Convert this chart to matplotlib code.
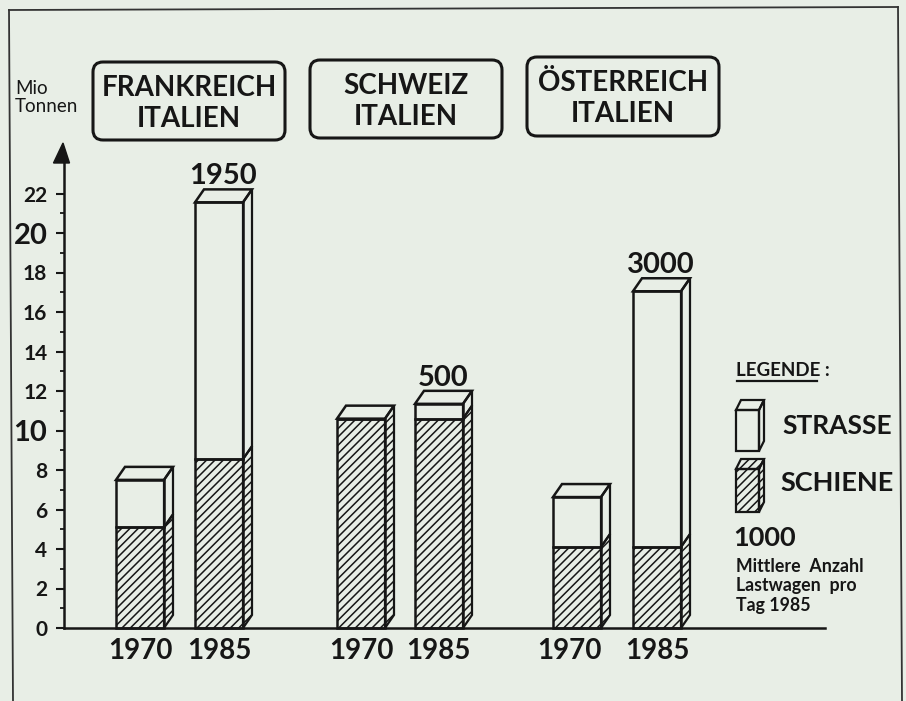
import matplotlib
matplotlib.use("Agg")
import matplotlib.pyplot as plt
from matplotlib.patches import FancyBboxPatch, Polygon, Rectangle
from matplotlib.lines import Line2D
from matplotlib.transforms import Affine2D

# --- data ---
routes = ["FRANKREICH\nITALIEN", "SCHWEIZ\nITALIEN", "ÖSTERREICH\nITALIEN"]
years = ["1970", "1985", "1970", "1985", "1970", "1985"]
schiene = [5.1, 8.55, 10.6, 10.6, 4.1, 4.1]
strasse = [2.4, 13.0, 0.0, 0.75, 2.53, 12.95]
lastwagen = ["", "1950", "", "500", "", "3000"]
y_ticks = [0, 2, 4, 6, 8, 10, 12, 14, 16, 18, 20, 22]

# --- layout (pixels of the 906x701 picture) ---
W, H = 906, 701
INK = "#161616"
BG = "#e8eee6"
FONT = "Lato"
plt.rcParams["font.family"] = [FONT, "DejaVu Sans"]
plt.rcParams["hatch.linewidth"] = 1.1
plt.rcParams["hatch.color"] = INK

fig = plt.figure(figsize=(W / 100, H / 100), dpi=100, facecolor=BG)
px = Affine2D().scale(1 / W, -1 / H).translate(0, 1) + fig.transFigure

AX_L, AX_R, AX_B, AX_T = 64, 825, 628, 163
UNIT = 19.75
ax = fig.add_axes([AX_L / W, 1 - AX_B / H, (AX_R - AX_L) / W, (AX_B - AX_T) / H])
ax.set_xlim(AX_L, AX_R)
ax.set_ylim(0, (AX_B - AX_T) / UNIT)
ax.patch.set_alpha(0)
for s in ("top", "right"):
    ax.spines[s].set_visible(False)
for s in ("left", "bottom"):
    ax.spines[s].set_linewidth(1.8)
    ax.spines[s].set_color(INK)

lefts = [116, 195, 337, 415, 553, 633]
BW, DX, DY = 48, 9, 13 / UNIT
HATCH = "////"

ax.bar(lefts, schiene, width=BW, align="edge", facecolor="none", edgecolor=INK,
       linewidth=1.8, hatch=HATCH, clip_on=False, zorder=3)
ax.bar(lefts, strasse, bottom=schiene, width=BW, align="edge", facecolor="none",
       edgecolor=INK, linewidth=1.8, clip_on=False, zorder=3)

for x, r, s, lab in zip(lefts, schiene, strasse, lastwagen):
    right = x + BW
    total = r + s
    ax.add_patch(Polygon([(right, 0), (right + DX, DY), (right + DX, r + DY), (right, r)],
                         closed=True, facecolor="none", edgecolor=INK, linewidth=1.6,
                         hatch=HATCH, clip_on=False, zorder=3))
    if s > 0:
        ax.add_patch(Polygon([(right, r), (right + DX, r + DY), (right + DX, total + DY), (right, total)],
                             closed=True, facecolor="none", edgecolor=INK, linewidth=1.6,
                             clip_on=False, zorder=3))
    ax.add_patch(Polygon([(x, total), (x + DX, total + DY), (right + DX, total + DY), (right, total)],
                         closed=True, facecolor="none", edgecolor=INK, linewidth=1.8,
                         clip_on=False, zorder=3))
    if lab:
        ax.annotate(lab, (x + BW / 2 + 4, total + DY), xytext=(0, 0), textcoords="offset points",
                    ha="center", va="bottom", fontsize=21, fontweight="bold", color=INK)

# axes ticks
ax.set_yticks(y_ticks)
ax.set_yticks([v + 1 for v in y_ticks[:-1]], minor=True)
ax.tick_params(axis="y", which="major", length=6, width=1.5, color=INK, pad=6,
               labelsize=15, labelcolor=INK)
ax.tick_params(axis="y", which="minor", length=3, width=1.3, color=INK)
for lbl in ax.get_yticklabels():
    lbl.set_fontweight("bold")
    if lbl.get_text() in ("10", "20"):
        lbl.set_fontsize(21)

ax.set_xticks([140, 219, 361, 438, 569, 657])
ax.set_xticklabels(years, fontsize=20, fontweight="bold", color=INK)
ax.tick_params(axis="x", length=0, pad=7)

# y arrow
fig.add_artist(Polygon([(63, 143), (53.5, 163), (69.5, 163)], closed=True, transform=px,
                       facecolor=INK, edgecolor=INK))
fig.text(15, 88, "Mio", transform=px, fontsize=13.5, va="center", color=INK)
fig.text(15, 107, "Tonnen", transform=px, fontsize=13.5, va="center", color=INK)

# frame (slightly tilted by the scan)
for xs, ys in [((9, 13), (10, 701)), ((9, 898), (10, 7)), ((898, 902), (7, 701))]:
    fig.add_artist(Line2D(xs, ys, transform=px, color="#333333", linewidth=1.3))

# route boxes
boxes = [(93, 62, 192, 78), (310, 60, 192, 78), (527, 57, 192, 79)]
for (x, y, w, h), name in zip(boxes, routes):
    fig.add_artist(FancyBboxPatch((x + 10, y + 10), w - 20, h - 20,
                                  boxstyle="round,pad=10,rounding_size=10", transform=px,
                                  facecolor="none", edgecolor=INK, linewidth=2.2))
    a, b = name.split("\n")
    fig.text(x + w / 2, y + 26, a, transform=px, ha="center", va="center",
             fontsize=20, fontweight="bold", color=INK)
    fig.text(x + w / 2, y + 57, b, transform=px, ha="center", va="center",
             fontsize=20, fontweight="bold", color=INK)

# legend
fig.text(736, 370, "LEGENDE :", transform=px, fontsize=13.5, fontweight="bold", va="center", color=INK)
fig.add_artist(Line2D((737, 817), (381, 381), transform=px, color=INK, linewidth=1.6))
for top, bottom, hatch in [(410, 451, None), (469, 512, HATCH)]:
    kw = dict(transform=px, facecolor="none", edgecolor=INK, linewidth=1.6)
    if hatch:
        kw["hatch"] = hatch
    fig.add_artist(Rectangle((736, top), 23, bottom - top, **kw))
    fig.add_artist(Polygon([(759, top), (764, top - 10), (764, bottom - 10), (759, bottom)], closed=True, **kw))
    fig.add_artist(Polygon([(736, top), (741, top - 10), (764, top - 10), (759, top)], closed=True, **kw))
fig.text(782, 426, "STRASSE", transform=px, fontsize=19, fontweight="bold", va="center", color=INK)
fig.text(780, 483, "SCHIENE", transform=px, fontsize=19.5, fontweight="bold", va="center", color=INK)
fig.text(733, 538, "1000", transform=px, fontsize=19.5, fontweight="bold", va="center", color=INK)
for y, t in [(567, "Mittlere  Anzahl"), (586, "Lastwagen  pro"), (606, "Tag 1985")]:
    fig.text(736, y, t, transform=px, fontsize=12.8, fontweight="bold", va="center", color=INK)

fig.savefig("out.png", dpi=100, facecolor=BG)
